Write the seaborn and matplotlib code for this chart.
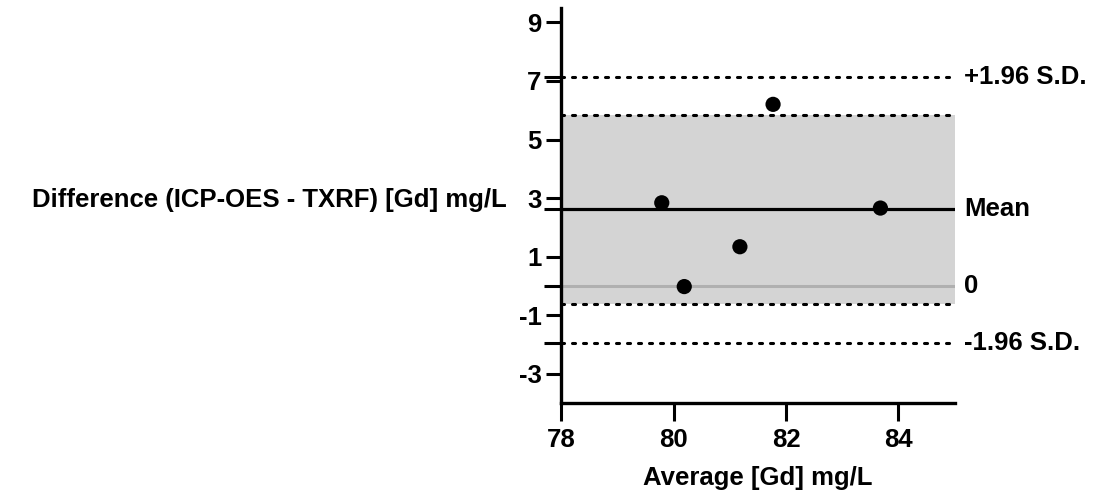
import matplotlib
matplotlib.use("Agg")
import matplotlib.pyplot as plt
import matplotlib.transforms as mtransforms
import seaborn as sns
import pandas as pd

# ---- data ----
average = [79.79, 80.19, 81.18, 81.77, 83.68]
difference = [2.84, -0.02, 1.34, 6.20, 2.66]
bias = 2.62
upper_loa = 7.14
lower_loa = -1.93
band_low = -0.61
band_high = 5.82
zero_line = 0.0
x_ticks = [78, 80, 82, 84]
y_ticks = [9, 7, 5, 3, 1, -1, -3]
line_labels = ["+1.96 S.D.", "Mean", "0", "-1.96 S.D."]
line_values = [upper_loa, bias, zero_line, lower_loa]

sns.set_theme(style="ticks")
plt.rcParams['font.family'] = ['Liberation Sans', 'DejaVu Sans']
plt.rcParams['font.weight'] = 'bold'
plt.rcParams['text.color'] = 'black'
plt.rcParams['axes.labelcolor'] = 'black'
plt.rcParams['xtick.color'] = 'black'
plt.rcParams['ytick.color'] = 'black'

FS = 18.5

fig = plt.figure(figsize=(10.96, 4.95), dpi=100)
ax = fig.add_axes([0.512, 0.1855, 0.359, 0.799])

df = pd.DataFrame({"avg": average, "diff": difference})

ax.axhspan(band_low, band_high, color="#d4d4d4", lw=0, zorder=0)
dot = dict(color="black", lw=2.2, linestyle=(0, (1, 2.6)), dash_capstyle="round", zorder=2)
ax.axhline(band_high, **dot)
ax.axhline(band_low, **dot)
ax.axhline(upper_loa, **dot)
ax.axhline(lower_loa, **dot)
ax.axhline(zero_line, color="#b0b0b0", lw=2.2, zorder=1)
ax.axhline(bias, color="black", lw=2.3, zorder=2)

sns.scatterplot(data=df, x="avg", y="diff", ax=ax, color="black", s=120,
                edgecolor="none", zorder=3, legend=False)

ax.set_xlim(78, 85)
ax.set_ylim(-4, 9.5)
ax.set_xticks(x_ticks)
ax.set_yticks(y_ticks)
ax.set_yticks(line_values, minor=True)
ax.set_xticklabels([str(v) for v in x_ticks])
ax.set_yticklabels([str(v) for v in y_ticks])

for s in ["top", "right"]:
    ax.spines[s].set_visible(False)
for s in ["left", "bottom"]:
    ax.spines[s].set_linewidth(2.4)
    ax.spines[s].set_color("black")

ax.tick_params(axis="both", which="both", length=11, width=2.2, color="black",
               labelcolor="black", labelsize=FS, pad=3)
ax.tick_params(axis="x", which="major", length=13, pad=5)
ax.tick_params(axis="y", which="minor", length=12.5)

ax.set_xlabel("Average [Gd] mg/L", fontsize=FS, fontweight="bold", labelpad=10, color="black")
ax.set_ylabel("Difference (ICP-OES - TXRF) [Gd] mg/L", fontsize=FS, fontweight="bold",
              rotation=0, ha="right", va="center", color="black")
ax.yaxis.set_label_coords(-0.137, 0.514)

trans = mtransforms.blended_transform_factory(ax.transAxes, ax.transData)
for lab, val in zip(line_labels, line_values):
    ax.text(1.025, val, lab, transform=trans, ha="left", va="center",
            fontsize=FS, fontweight="bold", clip_on=False, color="black")

fig.savefig("out.png", dpi=100)
